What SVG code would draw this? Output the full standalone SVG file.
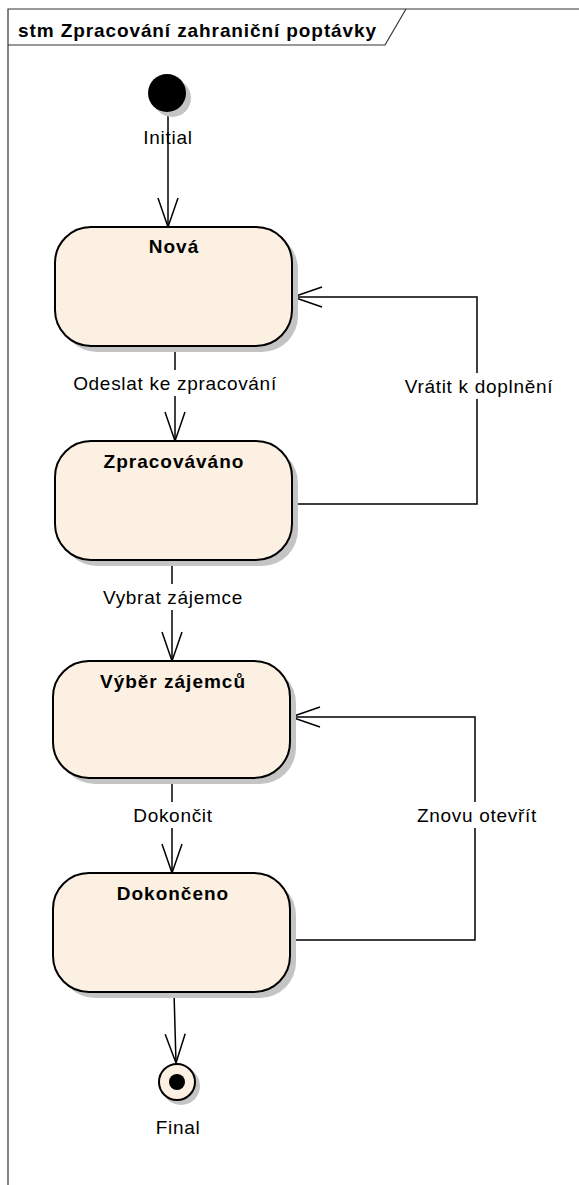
<svg xmlns="http://www.w3.org/2000/svg" width="579" height="1185" viewBox="0 0 579 1185">
  <style>
    .frame { fill: none; stroke: #333; stroke-width: 1.2; }
    .hdr { font-family: "Liberation Sans", Arial, sans-serif; font-size: 19px; font-weight: bold; letter-spacing: 0.9px; fill: #000; }
    .state { fill: #FBF0E1; stroke: #000; stroke-width: 2; }
    .shadow { fill: #c4c4c4; }
    .title { font-family: "Liberation Sans", Arial, sans-serif; font-size: 19px; font-weight: bold; letter-spacing: 1px; fill: #000; text-anchor: middle; }
    .lbl { font-family: "Liberation Sans", Arial, sans-serif; font-size: 19px; letter-spacing: 0.7px; fill: #000; text-anchor: middle; }
    .edge { fill: none; stroke: #000; stroke-width: 1.5; marker-end: url(#open); }
    .lblbg { fill: #fff; }
  </style>
  <defs>
    <marker id="open" markerUnits="userSpaceOnUse" markerWidth="40" markerHeight="30" viewBox="-32 -15 40 30" refX="0" refY="0" orient="auto" overflow="visible">
      <path d="M -29 -10 L 0 0 L -29 10" fill="none" stroke="#000" stroke-width="1.5"/>
    </marker>
  </defs>

  <rect width="579" height="1185" fill="#fff"/>

  <!-- diagram frame with its name tab -->
  <g id="frame">
    <path class="frame" d="M 8 1190 L 8 9 L 585 9"/>
    <path class="frame" d="M 8 45 L 385 45 L 406 9"/>
    <text class="hdr" x="18" y="37">stm Zpracování zahraniční poptávky</text>
  </g>

  <!-- transitions -->
  <g id="connectors">
    <path class="edge" d="M 168 112 L 168 227"/>
    <path class="edge" d="M 175 346 L 175 441"/>
    <path class="edge" d="M 292 504 L 477 504 L 477 297 L 293 297"/>
    <path class="edge" d="M 172 560 L 172 661"/>
    <path class="edge" d="M 172 778 L 172 873"/>
    <path class="edge" d="M 290 940 L 475 940 L 475 717 L 291 717"/>
    <path class="edge" d="M 174 992 L 176 1063"/>

    <g id="labels">
      <rect class="lblbg" x="70" y="370" width="212" height="26"/>
      <text class="lbl" x="175" y="390">Odeslat ke zpracování</text>
      <rect class="lblbg" x="400" y="373" width="158" height="26"/>
      <text class="lbl" x="479" y="393">Vrátit k doplnění</text>
      <rect class="lblbg" x="99" y="584" width="148" height="26"/>
      <text class="lbl" x="173" y="604">Vybrat zájemce</text>
      <rect class="lblbg" x="130" y="802" width="86" height="26"/>
      <text class="lbl" x="173" y="822">Dokončit</text>
      <rect class="lblbg" x="414" y="802" width="126" height="26"/>
      <text class="lbl" x="477" y="822">Znovu otevřít</text>
    </g>
  </g>

  <!-- initial pseudo-state -->
  <g id="initial">
    <circle class="shadow" cx="172" cy="98" r="19"/>
    <circle cx="167" cy="93" r="19" fill="#000"/>
    <text class="lbl" x="168" y="144">Initial</text>
  </g>

  <g id="state-nova">
    <rect class="shadow" x="61" y="233" width="237" height="119" rx="36"/>
    <rect class="state" x="55" y="227" width="237" height="119" rx="36"/>
    <text class="title" x="174" y="253">Nová</text>
  </g>

  <g id="state-zpracovavano">
    <rect class="shadow" x="61" y="447" width="237" height="119" rx="36"/>
    <rect class="state" x="55" y="441" width="237" height="119" rx="36"/>
    <text class="title" x="174" y="468">Zpracováváno</text>
  </g>

  <g id="state-vyber">
    <rect class="shadow" x="59" y="667" width="237" height="117" rx="36"/>
    <rect class="state" x="53" y="661" width="237" height="117" rx="36"/>
    <text class="title" x="173" y="688">Výběr zájemců</text>
  </g>

  <g id="state-dokonceno">
    <rect class="shadow" x="59" y="879" width="237" height="119" rx="36"/>
    <rect class="state" x="53" y="873" width="237" height="119" rx="36"/>
    <text class="title" x="173" y="900">Dokončeno</text>
  </g>

  <!-- final pseudo-state -->
  <g id="final">
    <circle class="shadow" cx="181" cy="1086" r="19"/>
    <circle cx="177" cy="1082" r="18" fill="#FBF0E1" stroke="#000" stroke-width="2"/>
    <circle cx="177" cy="1082" r="8" fill="#000"/>
    <text class="lbl" x="178" y="1134">Final</text>
  </g>
</svg>
